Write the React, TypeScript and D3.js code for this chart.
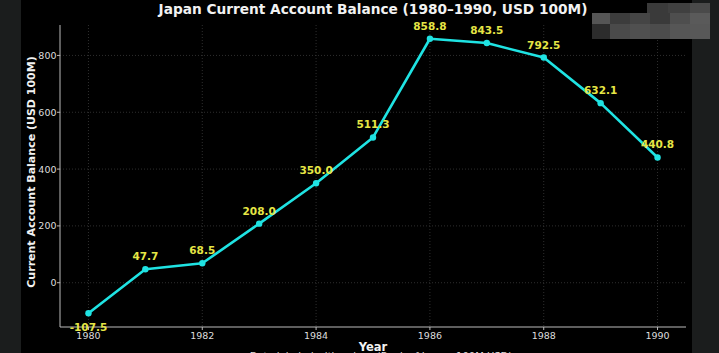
import React from "react";
import * as d3 from "d3";

const years = [1980, 1981, 1982, 1983, 1984, 1985, 1986, 1987, 1988, 1989, 1990];
const balance = [-107.5, 47.7, 68.5, 208.0, 350.0, 511.3, 858.8, 843.5, 792.5, 632.1, 440.8];
const xTicks = [1980, 1982, 1984, 1986, 1988, 1990];
const yTicks = [0, 200, 400, 600, 800];

const W = 719;
const H = 353;
const font = "'DejaVu Sans', sans-serif";

// censored block in the top-right corner of the screenshot
const mosaic: [number, number, number, number, string][] = [
  [647, 3, 21, 10, "#3a3a3a"], [668, 3, 22, 10, "#404040"], [690, 3, 20, 10, "#4a4a4a"],
  [592, 13, 18, 11, "#555"], [610, 13, 20, 11, "#3c3c3c"], [630, 13, 20, 11, "#454545"],
  [650, 13, 20, 11, "#3a3a3a"], [670, 13, 20, 11, "#4e4e4e"], [690, 13, 20, 11, "#5a5a5a"],
  [592, 24, 18, 15, "#2c2c2c"], [610, 24, 20, 15, "#4a4a4a"], [630, 24, 20, 15, "#505050"],
  [650, 24, 20, 15, "#4c4c4c"], [670, 24, 20, 15, "#565656"], [690, 24, 20, 15, "#585858"],
];

export default function App() {
  const left = 60, right = 686, top = 25, bottom = 327;
  const yMin = d3.min(balance)!, yMax = d3.max(balance)!;
  const pad = (yMax - yMin) * 0.05;
  const x = d3.scaleLinear().domain([1979.5, 1990.5]).range([left, right]);
  const y = d3.scaleLinear().domain([yMin - pad, yMax + pad]).range([bottom, top]);

  const pts = years.map((yr, i) => [x(yr), y(balance[i])] as [number, number]);
  const line = d3.line()(pts) || "";

  return (
    <svg width={W} height={H} style={{ position: "fixed", left: 0, top: 0, background: "#000" }}>
      <rect x={0} y={0} width={W} height={H} fill="#000" />
      <rect x={0} y={0} width={21} height={H} fill="#1b1d1d" />
      <rect x={692} y={0} width={27} height={H} fill="#1b1d1d" />

      {/* grid */}
      {xTicks.map((t) => (
        <line key={"gx" + t} x1={x(t)} x2={x(t)} y1={top} y2={bottom} stroke="#3a3a3a" strokeWidth={0.8} strokeDasharray="1,2" />
      ))}
      {yTicks.map((t) => (
        <line key={"gy" + t} x1={left} x2={right} y1={y(t)} y2={y(t)} stroke="#3a3a3a" strokeWidth={0.8} strokeDasharray="1,2" />
      ))}

      {/* spines */}
      <line x1={left} x2={left} y1={top} y2={bottom} stroke="#bbb" strokeWidth={1} />
      <line x1={left} x2={right} y1={bottom} y2={bottom} stroke="#bbb" strokeWidth={1} />

      {/* ticks */}
      {xTicks.map((t) => (
        <g key={"tx" + t}>
          <line x1={x(t)} x2={x(t)} y1={bottom} y2={bottom + 3} stroke="#bbb" />
          <text x={x(t)} y={bottom + 11.5} textAnchor="middle" fontFamily={font} fontSize={9.5} fill="#ddd">{t}</text>
        </g>
      ))}
      {yTicks.map((t) => (
        <g key={"ty" + t}>
          <line x1={left - 3} x2={left} y1={y(t)} y2={y(t)} stroke="#bbb" />
          <text x={left - 3.5} y={y(t) + 3.5} textAnchor="end" fontFamily={font} fontSize={9.5} fill="#ddd">{t}</text>
        </g>
      ))}

      {/* series */}
      <path d={line} fill="none" stroke="#1fe3e3" strokeWidth={2.6} strokeLinejoin="round" />
      {pts.map(([px, py], i) => (
        <circle key={"p" + i} cx={px} cy={py} r={3.2} fill="#1fe3e3" />
      ))}
      {pts.map(([px, py], i) => (
        <text key={"l" + i} x={px} y={balance[i] < 0 ? py + 18 : py - 9} textAnchor="middle"
          fontFamily={font} fontSize={10.5} fontWeight="bold" fill="#e6e645">
          {balance[i].toFixed(1)}
        </text>
      ))}

      {/* titles */}
      <text x={373} y={14} textAnchor="middle" fontFamily={font} fontSize={13.7} fontWeight="bold" fill="#f2f2f2">
        Japan Current Account Balance (1980–1990, USD 100M)
      </text>
      <text x={373} y={351} textAnchor="middle" fontFamily={font} fontSize={11.5} fontWeight="bold" fill="#f2f2f2">Year</text>
      <text x={381} y={359.5} textAnchor="middle" fontFamily={font} fontSize={10} fill="#ddd">
        Data labeled with values (Bank of Japan, 100M USD)
      </text>
      <text transform={`translate(35,172) rotate(-90)`} textAnchor="middle" fontFamily={font} fontSize={11} fontWeight="bold" fill="#f2f2f2">
        Current Account Balance (USD 100M)
      </text>

      {mosaic.map(([mx, my, mw, mh, c], i) => (
        <rect key={"m" + i} x={mx} y={my} width={mw} height={mh} fill={c} />
      ))}
    </svg>
  );
}
